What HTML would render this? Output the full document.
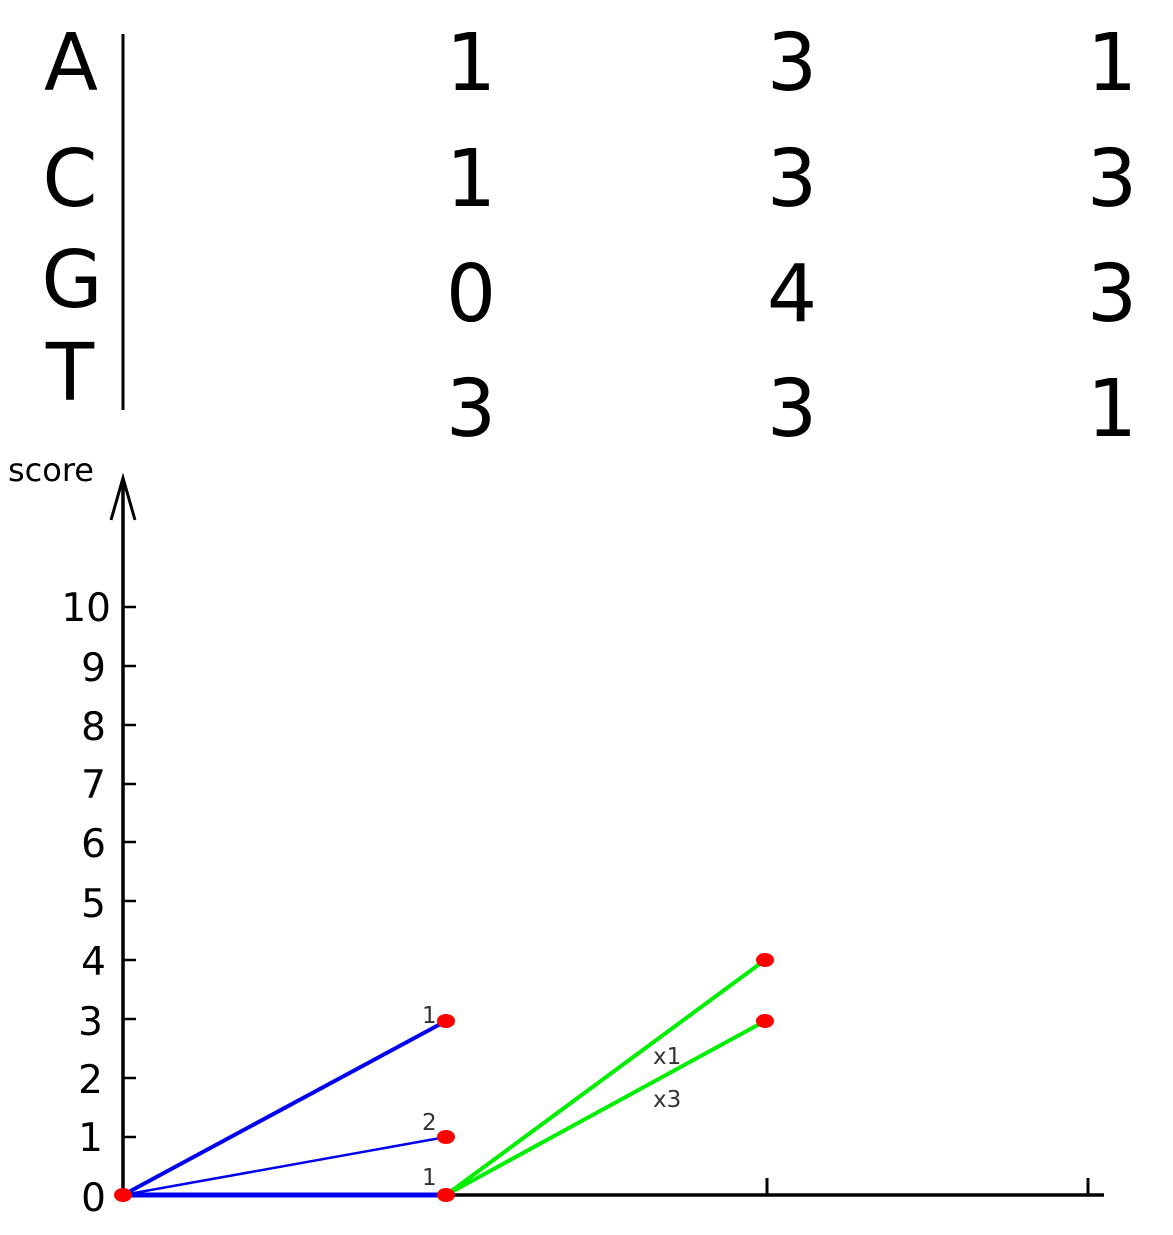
<!DOCTYPE html>
<html><head><style>html,body{margin:0;padding:0;background:#fff}</style></head>
<body>
<svg width="1173" height="1230" xmlns="http://www.w3.org/2000/svg" font-family="DejaVu Sans, Liberation Sans, sans-serif">
<g font-size="79" text-anchor="middle" fill="#000">
<text x="71" y="90">A</text>
<text x="70" y="206">C</text>
<text x="72" y="307">G</text>
<text x="70" y="400">T</text>
<text x="471" y="90">1</text><text x="792" y="90">3</text><text x="1112" y="90">1</text>
<text x="471" y="206">1</text><text x="792" y="206">3</text><text x="1112" y="206">3</text>
<text x="471" y="321">0</text><text x="792" y="321">4</text><text x="1112" y="321">3</text>
<text x="471" y="436">3</text><text x="792" y="436">3</text><text x="1112" y="436">1</text>
</g>
<line x1="123" y1="34" x2="123" y2="410" stroke="#000" stroke-width="3"/>
<text x="8" y="481" font-size="32">score</text>
<line x1="123" y1="480" x2="123" y2="1197" stroke="#000" stroke-width="3.5"/>
<polyline points="111,520 123,478 135,520" fill="none" stroke="#000" stroke-width="3"/>
<line x1="121" y1="1195" x2="1104" y2="1195" stroke="#000" stroke-width="3.5"/>
<line x1="767" y1="1178" x2="767" y2="1195" stroke="#000" stroke-width="3"/>
<line x1="1088" y1="1178" x2="1088" y2="1195" stroke="#000" stroke-width="3"/>
<g font-size="39" text-anchor="end" fill="#000">
<text x="106" y="1211">0</text><text x="103" y="1151">1</text><text x="103" y="1093">2</text><text x="103" y="1035">3</text><text x="106" y="975">4</text><text x="106" y="917">5</text><text x="106" y="857">6</text><text x="106" y="798">7</text><text x="106" y="740">8</text><text x="106" y="681">9</text><text x="111" y="621">10</text>
</g>
<g stroke="#000" stroke-width="2.5">
<line x1="123" y1="607" x2="136" y2="607"/><line x1="123" y1="666" x2="136" y2="666"/><line x1="123" y1="725" x2="136" y2="725"/><line x1="123" y1="784" x2="136" y2="784"/><line x1="123" y1="842" x2="136" y2="842"/><line x1="123" y1="901" x2="136" y2="901"/><line x1="123" y1="960" x2="136" y2="960"/><line x1="123" y1="1019" x2="136" y2="1019"/><line x1="123" y1="1078" x2="136" y2="1078"/><line x1="123" y1="1137" x2="136" y2="1137"/>
</g>
<g stroke="#0000ee">
<line x1="123" y1="1195" x2="446" y2="1021" stroke-width="4"/>
<line x1="123" y1="1195" x2="446" y2="1137" stroke-width="2.5"/>
<line x1="123" y1="1195" x2="446" y2="1195" stroke-width="5"/>
</g>
<g stroke="#00ee00" stroke-width="4">
<line x1="446" y1="1195" x2="765" y2="960"/>
<line x1="446" y1="1195" x2="765" y2="1021"/>
</g>
<g fill="#ff0000">
<ellipse cx="123" cy="1195" rx="9" ry="7"/><ellipse cx="446" cy="1021" rx="9" ry="7"/><ellipse cx="446" cy="1137" rx="9" ry="7"/><ellipse cx="446" cy="1195" rx="9" ry="7"/><ellipse cx="765" cy="960" rx="9" ry="7"/><ellipse cx="765" cy="1021" rx="9" ry="7"/>
</g>
<g font-size="23" fill="#333">
<text x="422" y="1023">1</text><text x="422" y="1130">2</text><text x="422" y="1185">1</text>
<text x="653" y="1064">x1</text><text x="653" y="1107">x3</text>
</g>
</svg>
</body></html>
